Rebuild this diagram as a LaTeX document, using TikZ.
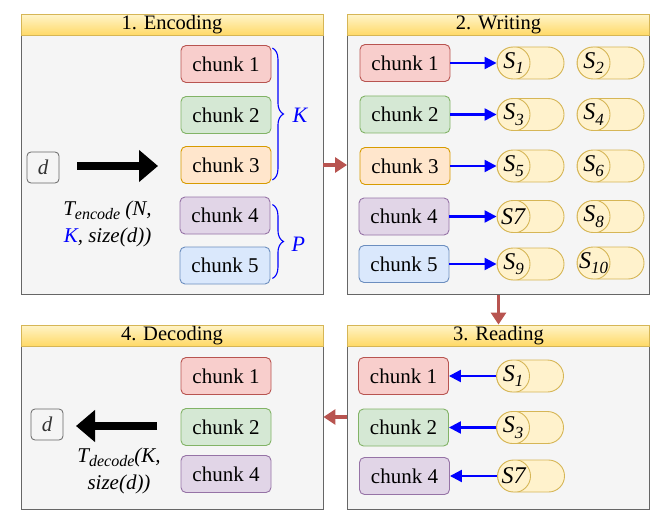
\documentclass[tikz,border=0pt]{standalone}
\usepackage{fontspec}
\setmainfont{Liberation Serif}
\usetikzlibrary{arrows.meta,decorations.pathreplacing,calc}
\definecolor{bodyfill}{HTML}{F5F5F5}
\definecolor{bodyline}{HTML}{666666}
\definecolor{titletop}{HTML}{FFF4C8}
\definecolor{titlebot}{HTML}{FFD966}
\definecolor{titleline}{HTML}{D6B656}
\definecolor{rfill}{HTML}{F8CECC}\definecolor{rline}{HTML}{B85450}
\definecolor{gfill}{HTML}{D5E8D4}\definecolor{gline}{HTML}{82B366}
\definecolor{ofill}{HTML}{FFE6CC}\definecolor{oline}{HTML}{D79B00}
\definecolor{pfill}{HTML}{E1D5E7}\definecolor{pline}{HTML}{9673A6}
\definecolor{bfill}{HTML}{DAE8FC}\definecolor{bline}{HTML}{6C8EBF}
\definecolor{sfill}{HTML}{FFF2CC}\definecolor{sline}{HTML}{D6B656}
\definecolor{redarr}{HTML}{B85450}
\newcommand\Sname[1]{\textit{S}\raisebox{-0.5ex}{\fontsize{17}{16}\selectfont\textit{#1}}}
\begin{document}
\begin{tikzpicture}[x=1pt,y=-1pt,
  panelbody/.style={draw=bodyline,fill=bodyfill,line width=0.9pt,minimum width=302pt,inner sep=0pt},
  paneltitle/.style={draw=titleline,top color=titletop,bottom color=titlebot,line width=0.9pt,minimum width=302pt,minimum height=21pt,inner sep=0pt,anchor=north,font=\fontsize{20.5}{22}\selectfont},
  chunkbox/.style={draw,rounded corners=5pt,line width=0.9pt,minimum width=90pt,minimum height=37pt,inner sep=0pt,font=\fontsize{21}{22}\selectfont},
  cr/.style={chunkbox,fill=rfill,draw=rline},
  cg/.style={chunkbox,fill=gfill,draw=gline},
  co/.style={chunkbox,fill=ofill,draw=oline},
  cpu/.style={chunkbox,fill=pfill,draw=pline},
  cb/.style={chunkbox,fill=bfill,draw=bline},
  server/.style={draw=sline,fill=sfill,line width=0.9pt,rounded corners=16pt,minimum width=67pt,minimum height=32pt,inner sep=0pt,
     path picture={\draw[sline,line width=0.9pt] ($(path picture bounding box.west)+(16.5pt,0)$) circle (16.5pt);}},
  slabel/.style={font=\fontsize{24}{24}\selectfont,inner sep=0pt},
  dbox/.style={draw=bodyline,rounded corners=4pt,line width=0.8pt,minimum width=32pt,minimum height=31pt,inner sep=0pt,font=\fontsize{21}{22}\selectfont\itshape,text=black!80},
  bluearr/.style={draw=blue,line width=2.3pt,-{Triangle[length=12pt,width=12pt]}},
  redarrow/.style={draw=redarr,line width=3.8pt,-{Triangle[length=12pt,width=15pt]}},
  bigarr/.style={draw=black,line width=7.5pt,-{Triangle[length=19pt,width=31pt]}},
  bracestyle/.style={draw=blue,line width=1.1pt,decorate,decoration={brace,amplitude=11pt}},
  bracelabel/.style={text=blue,font=\fontsize{22}{22}\selectfont\itshape,inner sep=0pt},
  formula/.style={align=center,font=\fontsize{21}{27}\selectfont\itshape,inner sep=0pt}
]
\useasboundingbox (0,0) rectangle (669,532);

% ---------- Panels ----------
\node[panelbody,minimum height=280pt] (p1) at (172,154.5) {};
\node[paneltitle] (t1) at (p1.north) {1. Encoding};
\node[panelbody,minimum height=280pt] (p2) at (498.5,154.5) {};
\node[paneltitle] (t2) at (p2.north) {2. Writing};
\node[panelbody,minimum height=184pt] (p4) at (172,417) {};
\node[paneltitle] (t4) at (p4.north) {4. Decoding};
\node[panelbody,minimum height=184pt] (p3) at (498.5,417) {};
\node[paneltitle] (t3) at (p3.north) {3. Reading};

% ---------- 1. Encoding ----------
\node[cr] (e1) at (226,64) {chunk 1};
\node[cg] (e2) at (226,115) {chunk 2};
\node[co] (e3) at (226,165) {chunk 3};
\node[cpu] (e4) at (225,215.5) {chunk 4};
\node[cb] (e5) at (225,265.5) {chunk 5};
\node[dbox] (d1) at (43,167.5) {d};
\coordinate (a1s) at (77,166);
\coordinate (a1e) at (158,166);
\draw[bigarr] (a1s) -- (a1e);
\node[formula] (f1) at (107.5,224) {T\raisebox{-0.45ex}{\fontsize{16}{16}\selectfont encode} (N,\\ \textcolor{blue}{K}, size(d))};
\draw[bracestyle] ($(e1.north east)+(1,3)$) -- ($(e3.south east)+(1,-4)$) coordinate[midway] (kb);
\node[bracelabel,anchor=west] (klab) at ($(kb)+(20,1)$) {K};
\draw[bracestyle] ($(e4.north east)+(2,8)$) -- ($(e5.south east)+(2,-6)$) coordinate[midway] (pb);
\node[bracelabel,anchor=west] (plab) at ($(pb)+(19,3)$) {P};

% ---------- 2. Writing ----------
\node[cr] (w1) at (405,63) {chunk 1};
\node[cg] (w2) at (405,114.5) {chunk 2};
\node[co] (w3) at (405,166) {chunk 3};
\node[cpu] (w4) at (404,216.5) {chunk 4};
\node[cb] (w5) at (404,264) {chunk 5};
\node[server] (s1) at (530.5,63) {};
\node[server] (s2) at (610.5,63) {};
\node[server] (s3) at (530.5,114.5) {};
\node[server] (s4) at (610.5,114.5) {};
\node[server] (s5) at (530.5,166) {};
\node[server] (s6) at (610.5,166) {};
\node[server] (s7) at (530.5,216.5) {};
\node[server] (s8) at (610.5,216.5) {};
\node[server] (s9) at (530.5,264) {};
\node[server] (s10) at (610.5,263) {};
\foreach \n/\l in {s1/1,s2/2,s3/3,s4/4,s5/5,s6/6,s8/8,s9/9,s10/10}{
  \node[slabel] (\n lab) at ($(\n.west)+(17,0)$) {\Sname{\l}};
}
\node[slabel] (s7lab) at ($(s7.west)+(17,0)$) {\textit{S7}};
\draw[bluearr] (w1.east) -- (s1.west);
\draw[bluearr] (w2.east) -- (s3.west);
\draw[bluearr] (w3.east) -- (s5.west);
\draw[bluearr] (w4.east) -- (s7.west);
\draw[bluearr] (w5.east) -- (s9.west);

% ---------- 3. Reading ----------
\node[cr] (r1) at (403.5,376) {chunk 1};
\node[cg] (r2) at (403.5,427.5) {chunk 2};
\node[cpu] (r4) at (404.5,476) {chunk 4};
\node[server] (rs1) at (530,376) {};
\node[server] (rs3) at (530,427.5) {};
\node[server] (rs7) at (531,476) {};
\node[slabel] (rs1lab) at ($(rs1.west)+(17,0)$) {\Sname{1}};
\node[slabel] (rs3lab) at ($(rs3.west)+(17,0)$) {\Sname{3}};
\node[slabel] (rs7lab) at ($(rs7.west)+(17,0)$) {\textit{S7}};
\draw[bluearr] (rs1.west) -- (r1.east);
\draw[bluearr] (rs3.west) -- (r2.east);
\draw[bluearr] (rs7.west) -- (r4.east);

% ---------- 4. Decoding ----------
\node[cr] (c1) at (226,376) {chunk 1};
\node[cg] (c2) at (226,427) {chunk 2};
\node[cpu] (c4) at (226,474) {chunk 4};
\node[dbox] (d2) at (47,424.5) {d};
\coordinate (a2s) at (157,426);
\coordinate (a2e) at (76,426);
\draw[bigarr] (a2s) -- (a2e);
\node[formula] (f2) at (119,471) {T\raisebox{-0.45ex}{\fontsize{16}{16}\selectfont decode}(K,\\ size(d))};

% ---------- Flow arrows ----------
\draw[redarrow] (p1.east |- e3) -- (p2.west |- e3);
\draw[redarrow] (p2.south) -- (p3.north);
\draw[redarrow] (p3.west) -- (p4.east);
\end{tikzpicture}
\end{document}
